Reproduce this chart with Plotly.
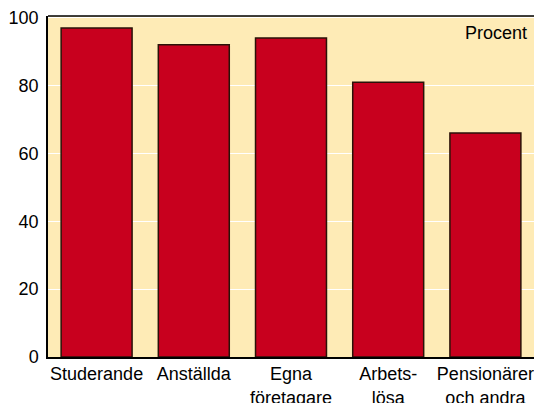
import plotly.graph_objects as go

categories = ["Studerande", "Anställda", "Egna<br>företagare", "Arbets-<br>lösa", "Pensionärer<br>och andra"]
values = [97, 92, 94, 81, 66]
y_ticks = [0, 20, 40, 60, 80, 100]

fig = go.Figure()
fig.add_trace(go.Bar(
    x=list(range(len(categories))), y=values,
    marker=dict(color="#C8001E", line=dict(color="#2a1208", width=1.5)),
    width=0.73,
))
fig.update_layout(
    width=534, height=403,
    margin=dict(l=48, r=0, t=16, b=46),
    paper_bgcolor="white", plot_bgcolor="#FEEBB6",
    font=dict(family="Liberation Sans, Arial, sans-serif", size=18, color="black"),
    showlegend=False, bargap=0.27,
    xaxis=dict(
        range=[-0.5, 4.5], tickmode="array", tickvals=list(range(len(categories))),
        ticktext=categories, showgrid=False, showline=True, linecolor="black",
        linewidth=1.5, mirror=False, ticks="", zeroline=False, automargin=False,
    ),
    yaxis=dict(
        range=[0, 100.5], tickvals=y_ticks, showgrid=True, gridcolor="white",
        gridwidth=1, showline=True, linecolor="black", linewidth=1.5, ticks="",
        zeroline=False, ticklabelstandoff=4, automargin=False,
    ),
    annotations=[dict(
        text="Procent", xref="paper", yref="paper", x=0.99, y=0.985,
        xanchor="right", yanchor="top", showarrow=False,
        font=dict(size=18, color="black"),
    )],
    shapes=[dict(type="line", xref="paper", yref="paper", x0=0, x1=1, y0=1, y1=1,
                 line=dict(color="black", width=1.5))],
)
fig.write_html(
    "out.html",
    config={"displayModeBar": False},
    post_script="document.body.style.margin='0';document.body.style.padding='0';",
)
